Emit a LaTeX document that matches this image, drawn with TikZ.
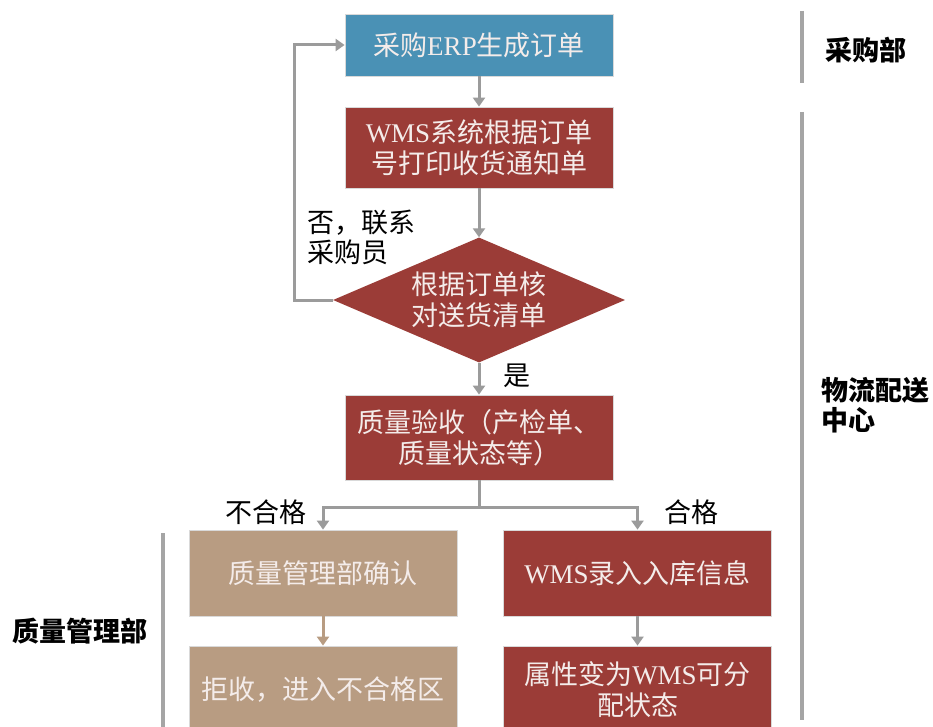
\documentclass[tikz,border=0pt]{standalone}
\usepackage{fontspec}
\setmainfont{Noto Sans CJK SC}
\newfontfamily\lat{Liberation Serif}
\usetikzlibrary{arrows.meta,shapes.geometric}
\definecolor{bblue}{HTML}{4A91B5}
\definecolor{bred}{HTML}{9B3C37}
\definecolor{btan}{HTML}{B89C82}
\definecolor{lgrey}{HTML}{9B9B9B}
\definecolor{btxt}{HTML}{F4ECEA}
\begin{document}
\begin{tikzpicture}[x=1pt,y=-1pt,
  box/.style={rectangle, draw=white!85!black, line width=0.8pt, minimum width=268pt, inner sep=0pt,
    text=btxt, align=center, font=\fontsize{27}{31}\selectfont},
  conn/.style={draw=lgrey, line width=3pt, -{Triangle[width=12pt,length=9pt]}},
  tconn/.style={draw=btan, line width=3pt, -{Triangle[width=12pt,length=9pt]}},
  plain/.style={draw=lgrey, line width=3pt},
  lbl/.style={font=\fontsize{27}{30}\selectfont, align=left, inner sep=0pt},
  side/.style={font=\fontsize{27}{30}\selectfont\bfseries, align=left, inner sep=0pt},
  sep/.style={draw=lgrey!90!white, line width=3.5pt}]
\useasboundingbox (0,0) rectangle (933,727);
\fill[white] (0,0) rectangle (933,727);

\node[box, fill=bblue, minimum height=62pt] (b1) at (479,45) {采购{\lat ERP}生成订单};
\node[box, fill=bred, minimum height=81pt] (b2) at (479,147.5) {{\lat WMS}系统根据订单\\号打印收货通知单};
\node[diamond, fill=bred, minimum width=292pt, minimum height=125pt, aspect=2.34, inner sep=0pt,
  text=btxt, align=center, font=\fontsize{27}{31}\selectfont] (d) at (479,300) {根据订单核\\对送货清单};
\node[box, fill=bred, minimum height=85pt] (b3) at (479,437.5) {质量验收（产检单、\\质量状态等）};
\node[box, fill=btan, minimum height=86pt] (b4) at (323,573) {质量管理部确认};
\node[box, fill=btan, minimum height=88pt] (b5) at (323,690) {拒收，进入不合格区};
\node[box, fill=bred, minimum height=86pt] (b6) at (637.5,573) {{\lat WMS}录入入库信息};
\node[box, fill=bred, minimum height=88pt] (b7) at (637.5,690) {属性变为{\lat WMS}可分\\配状态};

\coordinate (lp1) at (294,300);
\coordinate (lp2) at (294,45);
\coordinate (br) at (479,507);
\coordinate (brl) at (323,507);
\coordinate (brr) at (637.5,507);

\draw[conn] (b1) -- (b2);
\draw[conn] (b2) -- (d.north);
\draw[conn] (d.west) -- (lp1) -- (lp2) -- (b1.west);
\draw[conn] (d.south) -- (b3);
\draw[plain] (b3.south) -- (br);
\draw[conn] (br) -- (brl) -- (b4.north);
\draw[conn] (br) -- (brr) -- (b6.north);
\draw[tconn] (b4) -- (b5);
\draw[conn] (b6) -- (b7);

\node[lbl, anchor=west] (no) at (307,237) {否，联系\\采购员};
\node[lbl, anchor=west] (yes) at (503,376) {是};
\node[lbl] (bad) at (266,512) {不合格};
\node[lbl] (good) at (691,512) {合格};

\draw[sep] (802,11) -- (802,83);
\draw[sep] (802,112) -- (802,720);
\draw[sep] (163,533) -- (163,727);
\node[side] (s1) at (866,50) {采购部};
\node[side, anchor=west] (s2) at (821,405) {物流配送\\中心};
\node[side] (s3) at (80,631) {质量管理部};
\end{tikzpicture}
\end{document}
